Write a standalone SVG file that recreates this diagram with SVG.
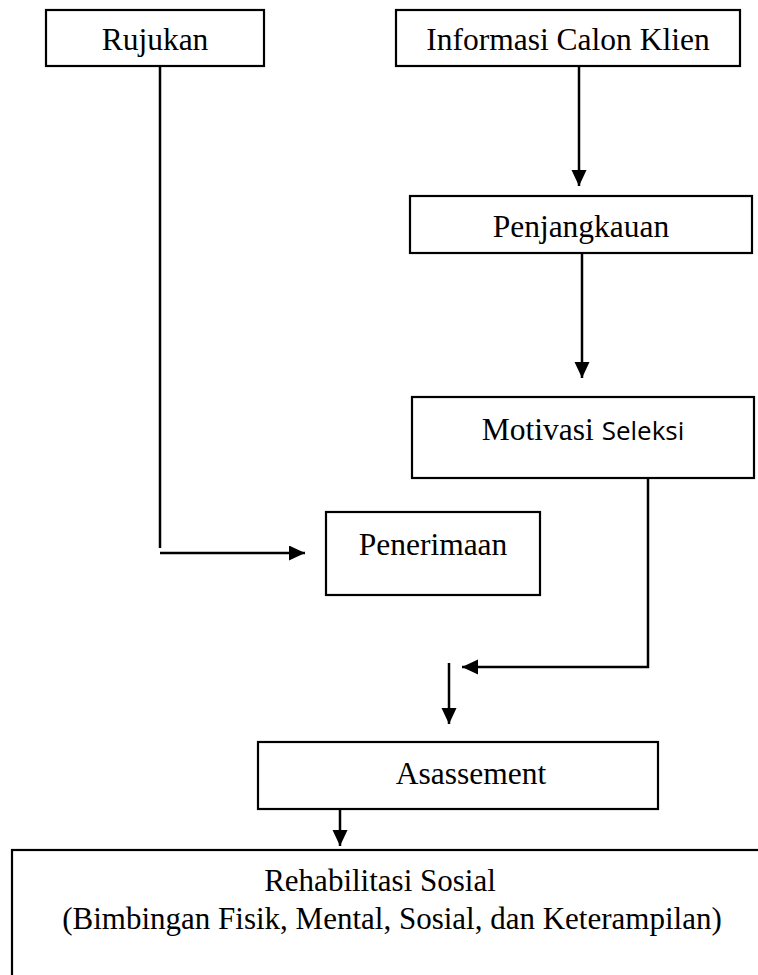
<svg xmlns="http://www.w3.org/2000/svg" width="758" height="975" viewBox="0 0 758 975">
<style>
.box{fill:#fff;stroke:#000;stroke-width:2.2}
.t{font-family:"Liberation Serif","Times New Roman",serif;font-size:31.5px;fill:#000}
.r{font-size:31px}
.s{font-family:"Open Sans","Noto Sans",sans-serif;font-size:26px}
.c{fill:none;stroke:#000;stroke-width:2.5}
</style>
<defs>
<marker id="ah" markerUnits="userSpaceOnUse" markerWidth="18" markerHeight="16" refX="16" refY="7.5" orient="auto">
<path d="M0,0 L16,7.5 L0,15 Z" fill="#000"/>
</marker>
</defs>
<rect width="758" height="975" fill="#fff"/>
<g id="rujukan"><rect class="box" x="46" y="10" width="218" height="56"/><text class="t" x="155" y="50" text-anchor="middle">Rujukan</text></g>
<g id="informasi"><rect class="box" x="396" y="10" width="344" height="56"/><text class="t" x="568" y="50" text-anchor="middle">Informasi Calon Klien</text></g>
<g id="penjangkauan"><rect class="box" x="410" y="196" width="342" height="57"/><text class="t" x="581" y="237" text-anchor="middle">Penjangkauan</text></g>
<g id="motivasi"><rect class="box" x="412" y="397" width="342" height="81"/><text class="t" x="583" y="440" text-anchor="middle">Motivasi <tspan class="s">Seleksi</tspan></text></g>
<g id="penerimaan"><rect class="box" x="326" y="512" width="214" height="83"/><text class="t" x="433" y="555" text-anchor="middle">Penerimaan</text></g>
<g id="asassement"><rect class="box" x="258" y="742" width="400" height="67"/><text class="t" x="471" y="784" text-anchor="middle">Asassement</text></g>
<g id="rehabilitasi"><rect class="box" x="12" y="850" width="760" height="140"/><text class="t r" x="380" y="891" text-anchor="middle">Rehabilitasi Sosial</text><text class="t r" x="392" y="929" text-anchor="middle">(Bimbingan Fisik, Mental, Sosial, dan Keterampilan)</text></g>
<g id="connectors">
<path class="c" d="M579,66 V186" marker-end="url(#ah)"/>
<path class="c" d="M582,253 V378" marker-end="url(#ah)"/>
<path class="c" d="M160,66 V548"/>
<path class="c" d="M160,553 H305" marker-end="url(#ah)"/>
<path class="c" d="M648,478 V667 H462" marker-end="url(#ah)"/>
<path class="c" d="M449,663 V724" marker-end="url(#ah)"/>
<path class="c" d="M340,809 V846" marker-end="url(#ah)"/>
</g>
</svg>
